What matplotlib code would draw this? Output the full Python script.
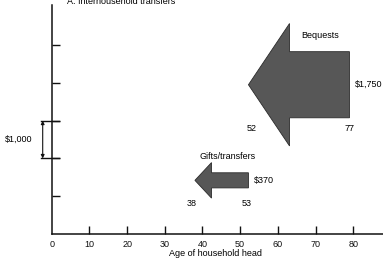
import matplotlib
matplotlib.use("Agg")
import matplotlib.pyplot as plt
from matplotlib.patches import Polygon
import matplotlib.transforms as mtransforms

plt.rcParams['font.family'] = ['Liberation Sans', 'DejaVu Sans']

# ---- data (ages in years, amounts in $1,000) ----
arrow_names = ["Bequests", "Gifts/transfers"]
arrow_from_age = [79, 52.2]          # drawn right edge of arrow body
arrow_to_age = [52.2, 38]            # arrow tip
arrow_amount = [1.75, 0.40]          # body height ($1,000)
arrow_level = [3.95, 1.42]           # vertical centre of arrow
head_length = [10.9, 4.4]            # years
head_halfwidth = [1.62, 0.47]        # $1,000
amount_labels = ["$1,750", "$370"]
from_labels = ["77", "53"]
to_labels = ["52", "38"]

x_ticks = [10, 20, 30, 40, 50, 60, 70, 80]
x_ticklabels = ["0", "10", "20", "30", "40", "50", "60", "70", "80"]
y_ticks = [1, 2, 3, 4, 5]
scale_bracket = [2, 3]
scale_label = "$1,000"

FS = 6.5
W, H = 383, 259
fig = plt.figure(figsize=(W / 100, H / 100), dpi=100)
ax = fig.add_axes([51.7 / W, 25 / H, (W - 51.7) / W, 229 / H])
ax.set_xlim(0, 87.9)
ax.set_ylim(0, 6.06)

for s in ["top", "right"]:
    ax.spines[s].set_visible(False)
for s in ["left", "bottom"]:
    ax.spines[s].set_linewidth(1.1)
    ax.spines[s].set_color("#111111")

ax.set_xticks([0] + x_ticks)
ax.set_xticklabels(x_ticklabels, fontsize=FS)
ax.set_yticks(y_ticks)
ax.set_yticklabels([])
ax.tick_params(axis="x", direction="in", length=6, width=1.0, pad=4, colors="#111111")
ax.tick_params(axis="y", direction="in", length=6, width=1.0, colors="#111111")
ax.xaxis.get_major_ticks()[0].tick1line.set_visible(False)
ax.set_xlabel("Age of household head", fontsize=FS, labelpad=0.5, x=0.495)

# arrows
label_drop = [0.27, 0.40]
for i in range(len(arrow_names)):
    x0 = arrow_from_age[i]
    x1 = arrow_to_age[i]
    yc = arrow_level[i]
    hh = arrow_amount[i] / 2
    xb = x1 + head_length[i]
    hw = head_halfwidth[i]
    pts = [(x0, yc + hh), (xb, yc + hh), (xb, yc + hw), (x1, yc),
           (xb, yc - hw), (xb, yc - hh), (x0, yc - hh)]
    ax.add_patch(Polygon(pts, closed=True, facecolor="#575757",
                         edgecolor="#2a2a2a", linewidth=0.6))
    ax.text(x0 + 1.4, yc, amount_labels[i], fontsize=FS, ha="left", va="center")
    ly = yc - hh - label_drop[i]
    ax.text(x0 + (0 if i == 0 else -0.4), ly, from_labels[i],
            fontsize=FS, ha="center", va="center")
    ax.text(x1 + (0.8 if i == 0 else -0.9), ly,
            to_labels[i], fontsize=FS, ha="center", va="center")

ax.text(71.2, 5.26, arrow_names[0], fontsize=FS, ha="center", va="center")
ax.text(46.6, 2.06, arrow_names[1], fontsize=FS, ha="center", va="center")

# scale bracket
trans = mtransforms.blended_transform_factory(ax.transAxes, ax.transData)
for yv in scale_bracket:
    ax.plot([-10.7 / 331.3, 7.5 / 331.3], [yv, yv], transform=trans,
            color="#111111", lw=1.0, clip_on=False)
ax.annotate("", xy=(-9 / 331.3, scale_bracket[0]), xytext=(-9 / 331.3, scale_bracket[1]),
            xycoords=trans, textcoords=trans,
            arrowprops=dict(arrowstyle="<|-|>", color="#111111", lw=0.8,
                            mutation_scale=5, shrinkA=0, shrinkB=0))
ax.text(-33 / 331.3, sum(scale_bracket) / 2, scale_label, transform=trans,
        fontsize=FS, ha="center", va="center")

fig.text(67 / W, 1 - 1.5 / H, "A. Interhousehold transfers", fontsize=FS,
         ha="left", va="center")

fig.savefig("out.png", dpi=100)
